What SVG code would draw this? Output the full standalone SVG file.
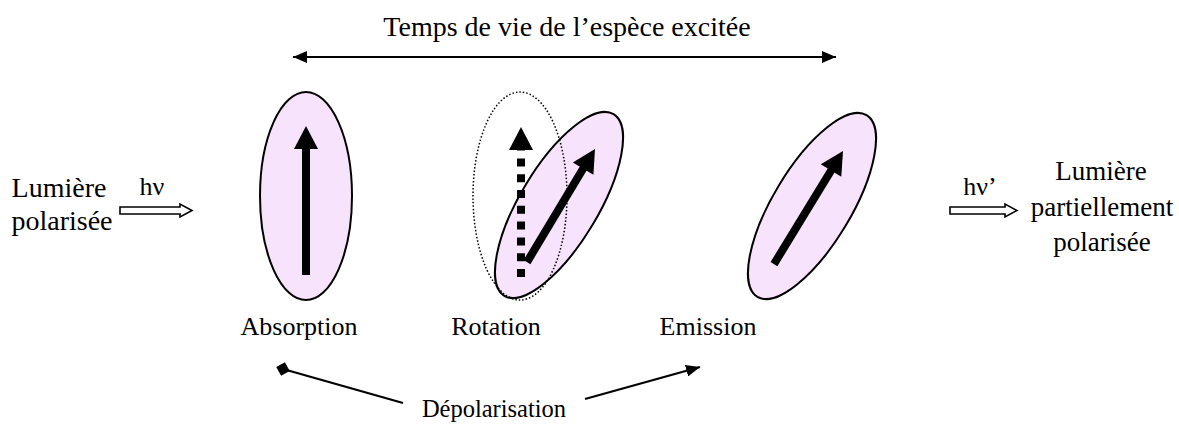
<svg xmlns="http://www.w3.org/2000/svg" width="1179" height="424" viewBox="0 0 1179 424">
<defs>
<style>
text{font-family:"Liberation Serif","Times New Roman",serif;font-size:26px;fill:#000}
.big{font-size:28px}
.mid{font-size:27px}
.dep{font-size:24.5px}
.ell{fill:#F7E3FB;stroke:#000;stroke-width:2}
.dot{fill:none;stroke:#000;stroke-width:1.5;stroke-dasharray:1.5 2}
.hollow{fill:#fff;stroke:#000;stroke-width:1.6}
.ln{fill:none;stroke:#000;stroke-width:2.2}
</style>
<marker id="ah" viewBox="0 0 14 12" refX="14" refY="6" markerWidth="14" markerHeight="12" markerUnits="userSpaceOnUse" orient="auto-start-reverse"><path d="M0,0 L14,6 L0,12 z" fill="#000"/></marker>
<marker id="dm" viewBox="0 0 14 14" refX="7" refY="7" markerWidth="14" markerHeight="14" markerUnits="userSpaceOnUse" orient="auto"><path d="M0,7 L7,0 L14,7 L7,14 z" fill="#000"/></marker>
</defs>
<rect width="1179" height="424" fill="#fff"/>

<g id="connectors">
<line class="ln" x1="293" y1="57" x2="836" y2="57" marker-start="url(#ah)" marker-end="url(#ah)"/>
<polygon class="hollow" points="120,207 180,207 180,204 192,210.5 180,217 180,214 120,214"/>
<polygon class="hollow" points="950,207 1005,207 1005,204 1017,210.5 1005,217 1005,214 950,214"/>
<line class="ln" x1="403" y1="403" x2="283" y2="369" marker-end="url(#dm)"/>
<line class="ln" x1="585" y1="399" x2="700" y2="367" marker-end="url(#ah)"/>
</g>

<g id="title"><text class="big" x="567" y="36" text-anchor="middle">Temps de vie de l’espèce excitée</text></g>

<g id="lumiere-in">
<text class="big" x="59" y="197" text-anchor="middle">Lumière</text>
<text class="big" x="62" y="230" text-anchor="middle">polarisée</text>
<text x="152" y="195" text-anchor="middle">hν</text>
</g>

<g id="lumiere-out">
<text x="980" y="195" text-anchor="middle">hν’</text>
<text class="mid" x="1101" y="180" text-anchor="middle">Lumière</text>
<text class="mid" x="1102" y="216" text-anchor="middle">partiellement</text>
<text class="mid" x="1102" y="251" text-anchor="middle">polarisée</text>
</g>

<g id="absorption">
<ellipse class="ell" cx="306" cy="196" rx="46" ry="104"/>
<g transform="translate(306,200.5)">
<rect x="-4" y="-52.5" width="8" height="127"/>
<polygon points="0,-74.5 12,-51.5 -12,-51.5"/>
</g>
<text x="299" y="335" text-anchor="middle">Absorption</text>
</g>

<g id="rotation">
<ellipse class="ell" cx="559" cy="205" rx="39" ry="106" transform="rotate(31 559 205)"/>
<ellipse class="dot" cx="520" cy="196" rx="47" ry="104"/>
<line x1="521" y1="277" x2="521" y2="150" stroke="#000" stroke-width="8" stroke-dasharray="8 7.8"/>
<polygon points="521,127 533,150 509,150"/>
<g transform="translate(561,205.5) rotate(31)">
<rect x="-4" y="-44" width="8" height="110"/>
<polygon points="0,-66 12,-43 -12,-43"/>
</g>
<text x="496" y="335" text-anchor="middle">Rotation</text>
</g>

<g id="emission">
<ellipse class="ell" cx="812" cy="206" rx="39" ry="106" transform="rotate(31 812 206)"/>
<g transform="translate(808.5,207.5) rotate(31.4)">
<rect x="-4" y="-44.25" width="8" height="110.5"/>
<polygon points="0,-66.25 12,-43.25 -12,-43.25"/>
</g>
<text x="708" y="335" text-anchor="middle">Emission</text>
</g>

<g id="depolarisation"><text class="dep" x="494" y="417" text-anchor="middle">Dépolarisation</text></g>
</svg>
